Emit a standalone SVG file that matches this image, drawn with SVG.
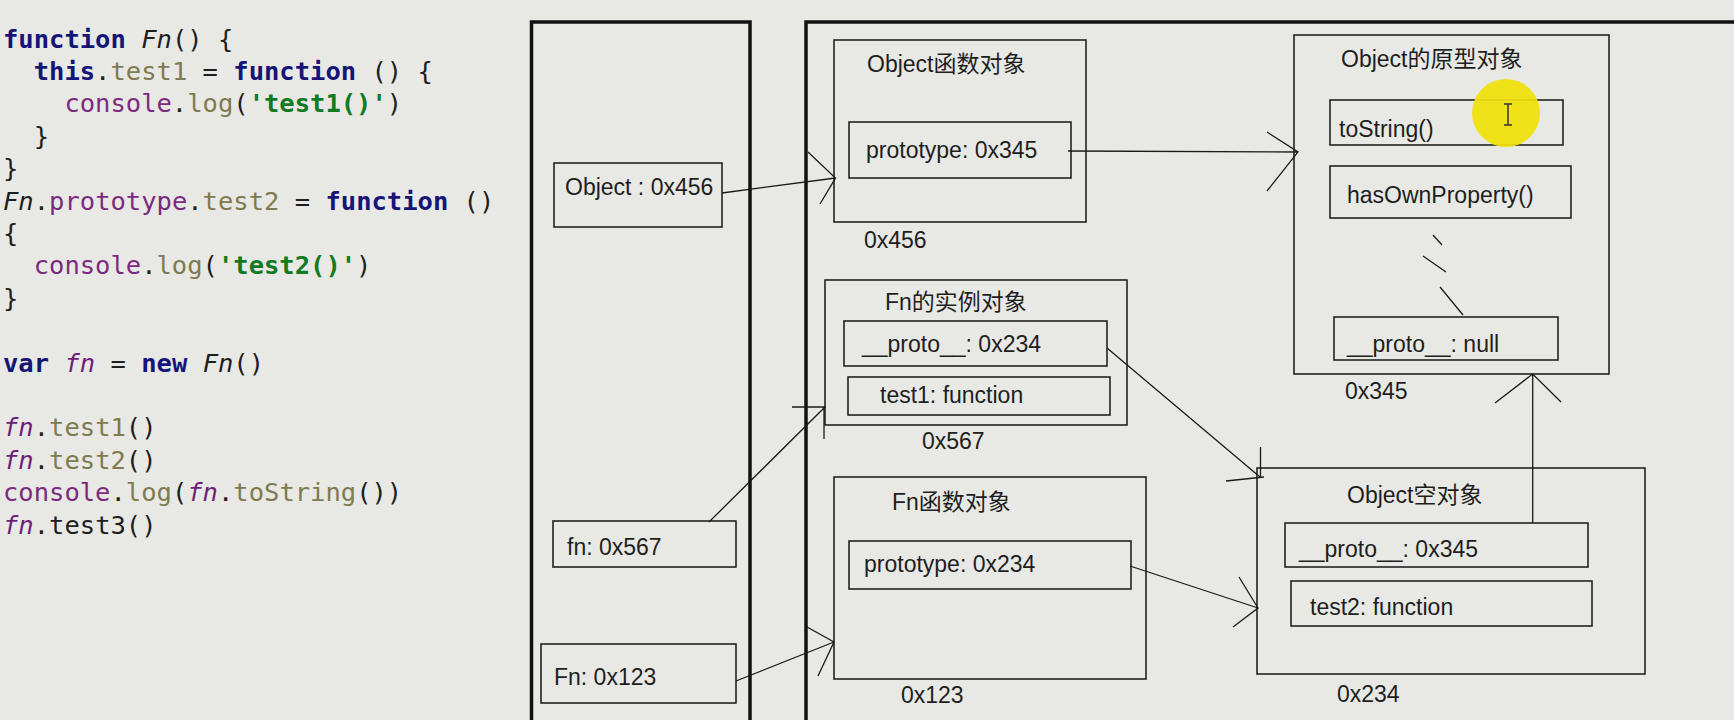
<svg xmlns="http://www.w3.org/2000/svg" width="1734" height="720" viewBox="0 0 1734 720">
<style>
.code{font-family:"DejaVu Sans Mono","Liberation Mono",monospace;font-size:25.5px;fill:#1e1e1e}
.k{fill:#151577;font-weight:bold}
.p{fill:#7b2a7e}
.o{fill:#7f7a4f}
.s{fill:#127a22;font-weight:bold}
.i{font-style:italic;fill:#1e1e1e}
.ip{font-style:italic;fill:#6e1f7a}
.panel{fill:none;stroke:#111;stroke-width:3.5}
.box{fill:none;stroke:#222;stroke-width:1.6}
.lbl{font-family:"Liberation Sans","Noto Sans CJK SC",sans-serif;font-size:23px;fill:#1e1e1e}
.ln{fill:none;stroke:#1a1a1a;stroke-width:1.3}
</style>
<rect width="1734" height="720" fill="#e8e9e5"/>

<g id="code">
<text class="code" x="3" y="47.5"><tspan class="k">function</tspan> <tspan class="i">Fn</tspan>() {</text>
<text class="code" x="33.7" y="79.9"><tspan class="k">this</tspan>.<tspan class="o">test1</tspan> = <tspan class="k">function</tspan> () {</text>
<text class="code" x="64.4" y="112.3"><tspan class="p">console</tspan>.<tspan class="o">log</tspan>(<tspan class="s">'test1()'</tspan>)</text>
<text class="code" x="33.7" y="144.7">}</text>
<text class="code" x="3" y="177.1">}</text>
<text class="code" x="3" y="209.5"><tspan class="i">Fn</tspan>.<tspan class="p">prototype</tspan>.<tspan class="o">test2</tspan> = <tspan class="k">function</tspan> ()</text>
<text class="code" x="3" y="241.9">{</text>
<text class="code" x="33.7" y="274.3"><tspan class="p">console</tspan>.<tspan class="o">log</tspan>(<tspan class="s">'test2()'</tspan>)</text>
<text class="code" x="3" y="306.7">}</text>
<text class="code" x="3" y="371.5"><tspan class="k">var</tspan> <tspan class="ip">fn</tspan> = <tspan class="k">new</tspan> <tspan class="i">Fn</tspan>()</text>
<text class="code" x="3" y="436.3"><tspan class="ip">fn</tspan>.<tspan class="o">test1</tspan>()</text>
<text class="code" x="3" y="468.7"><tspan class="ip">fn</tspan>.<tspan class="o">test2</tspan>()</text>
<text class="code" x="3" y="501.1"><tspan class="p">console</tspan>.<tspan class="o">log</tspan>(<tspan class="ip">fn</tspan>.<tspan class="o">toString</tspan>())</text>
<text class="code" x="3" y="533.5"><tspan class="ip">fn</tspan>.test3()</text>
</g>

<g id="stack">
<path class="panel" d="M531.5,724 V22 H750 V724"/>
</g>
<g id="heap">
<path class="panel" d="M806,724 V22 H1740"/>
</g>

<g id="var-object">
<rect class="box" x="554" y="163" width="168" height="64"/>
<text class="lbl" x="565" y="195">Object : 0x456</text>
</g>
<g id="var-fn">
<rect class="box" x="553" y="521" width="183" height="46"/>
<text class="lbl" x="567" y="555">fn: 0x567</text>
</g>
<g id="var-Fn">
<rect class="box" x="541" y="644" width="195" height="59"/>
<text class="lbl" x="554" y="685">Fn: 0x123</text>
</g>

<g id="object-function">
<rect class="box" x="834" y="40" width="252" height="182"/>
<text class="lbl" x="867" y="72">Object函数对象</text>
<rect class="box" x="849" y="122" width="222" height="56"/>
<text class="lbl" x="866" y="158">prototype: 0x345</text>
<text class="lbl" x="864" y="248">0x456</text>
</g>

<g id="fn-instance">
<rect class="box" x="825" y="280" width="302" height="145"/>
<text class="lbl" x="885" y="310">Fn的实例对象</text>
<rect class="box" x="844" y="321" width="263" height="45"/>
<text class="lbl" x="862" y="352">__proto__: 0x234</text>
<rect class="box" x="848" y="377" width="262" height="38"/>
<text class="lbl" x="880" y="403">test1: function</text>
<text class="lbl" x="922" y="449">0x567</text>
</g>

<g id="fn-function">
<rect class="box" x="834" y="477" width="312" height="202"/>
<text class="lbl" x="892" y="510">Fn函数对象</text>
<rect class="box" x="849" y="541" width="282" height="48"/>
<text class="lbl" x="864" y="572">prototype: 0x234</text>
<text class="lbl" x="901" y="703">0x123</text>
</g>

<g id="object-prototype">
<rect class="box" x="1294" y="35" width="315" height="339"/>
<text class="lbl" x="1341" y="67">Object的原型对象</text>
<rect class="box" x="1330" y="100" width="233" height="45"/>
<text class="lbl" x="1339" y="137">toString()</text>
<rect class="box" x="1330" y="166" width="241" height="52"/>
<text class="lbl" x="1347" y="203">hasOwnProperty()</text>
<path class="ln" d="M1433,235 L1442,245 M1423,256 L1446,272 M1440,287 L1463,315"/>
<rect class="box" x="1334" y="317" width="224" height="43"/>
<text class="lbl" x="1347" y="352">__proto__: null</text>
<text class="lbl" x="1345" y="399">0x345</text>
</g>

<g id="object-empty">
<rect class="box" x="1257" y="468" width="388" height="206"/>
<text class="lbl" x="1347" y="503">Object空对象</text>
<rect class="box" x="1285" y="523" width="303" height="44"/>
<text class="lbl" x="1299" y="557">__proto__: 0x345</text>
<rect class="box" x="1291" y="581" width="301" height="45"/>
<text class="lbl" x="1310" y="615">test2: function</text>
<text class="lbl" x="1337" y="702">0x234</text>
</g>

<g id="connectors">
<path class="ln" d="M722,193 L835.5,178 M808,152 L835.5,178 L820,204"/>
<path class="ln" d="M1068,151 L1298,152 M1267,132 L1298,152 L1267,191"/>
<path class="ln" d="M709,522 L824,408 M792,407 L826,407 M824,408 L824,439"/>
<path class="ln" d="M736,681 L834,642 M807,627 L834,642 L818,676"/>
<path class="ln" d="M1107,348 L1260,477 M1260.5,447 L1260.5,478 M1226,481 L1264,477"/>
<path class="ln" d="M1130,566 L1258,608 M1239,577 L1258,608 L1233,627"/>
<path class="ln" d="M1532.7,523 L1532.7,374 M1495,403 L1532.7,374 L1561,402"/>
</g>

<g id="cursor">
<circle cx="1506" cy="113" r="34" fill="#efe10a" opacity="0.93"/>
<path d="M1504,104 H1512 M1508,104 V125 M1504,125 H1512" stroke="#333" stroke-width="1.5" fill="none"/>
</g>
</svg>
